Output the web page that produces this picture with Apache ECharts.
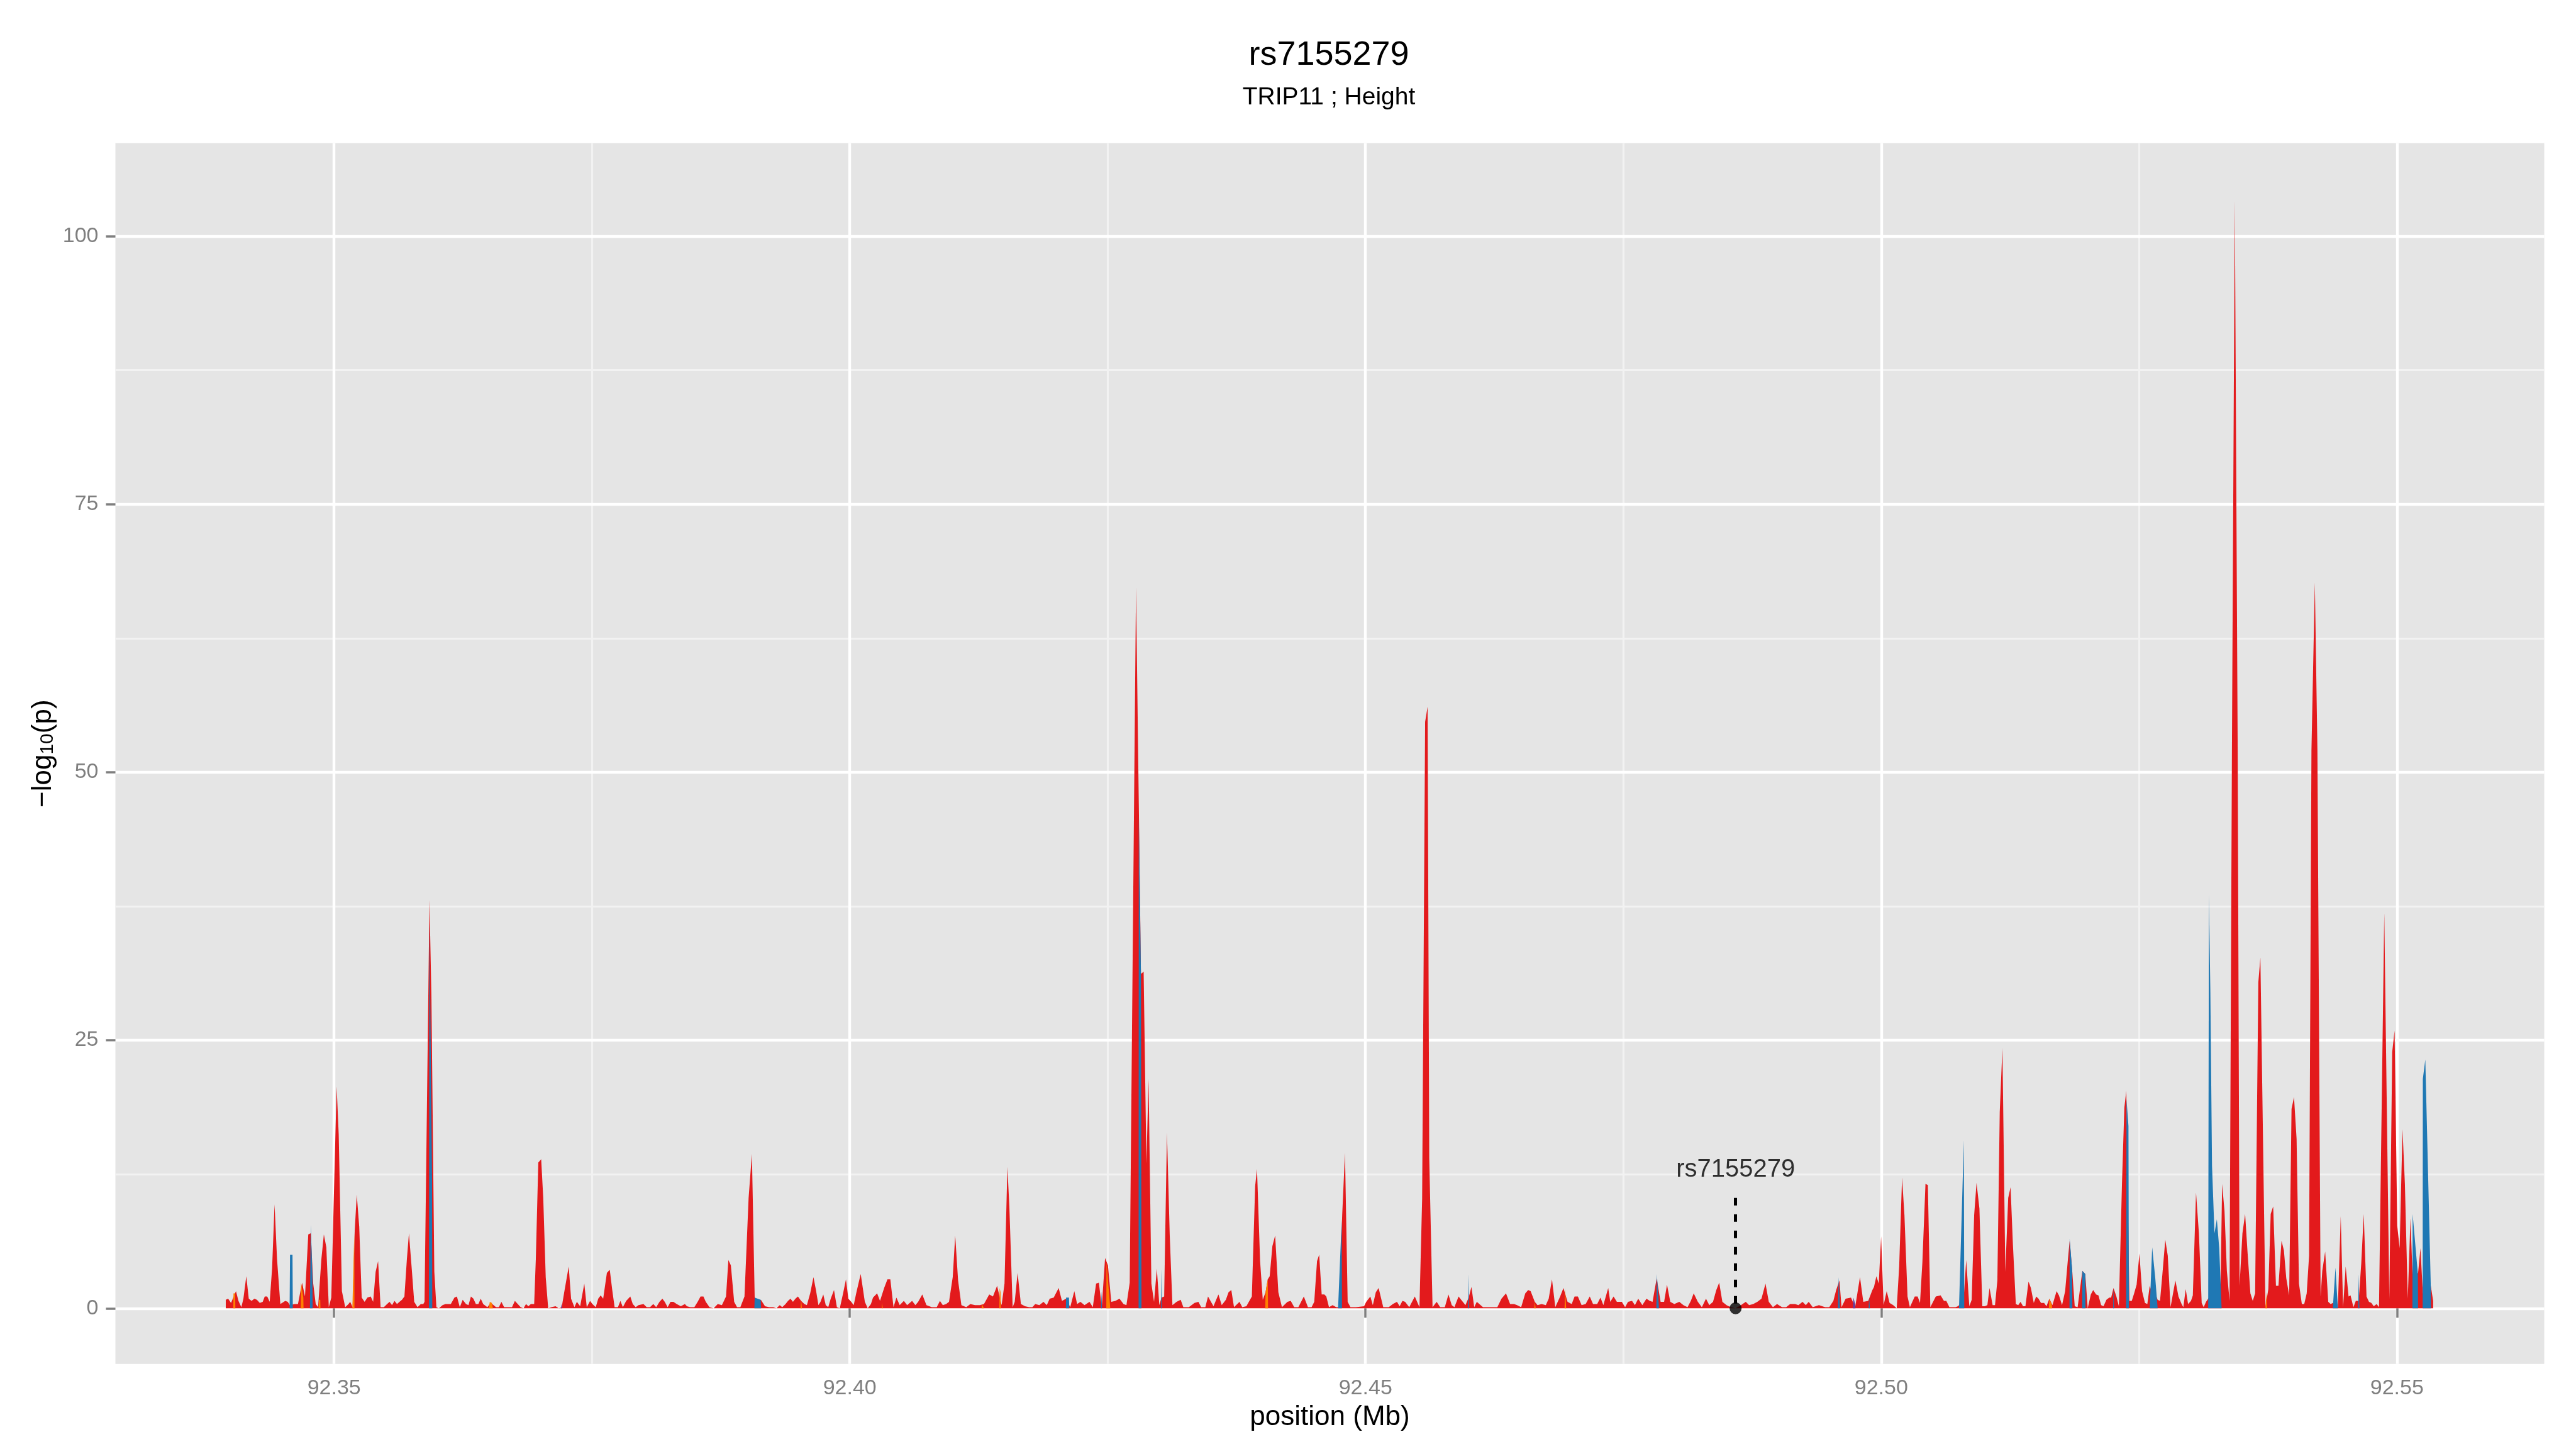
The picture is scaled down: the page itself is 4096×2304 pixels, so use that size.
<!DOCTYPE html>
<html>
<head>
<meta charset="utf-8">
<title>rs7155279</title>
<script src="https://cdn.jsdelivr.net/npm/echarts@6/dist/echarts.min.js"></script>
<style>
html, body { margin: 0; padding: 0; background: #fff; }
#chart { width: 4096px; height: 2304px; }
</style>
</head>
<body>
<div id="chart"></div>
<script>
// position in Mb, value is -log10(p)
const redPos = [
  92.33950, 92.33973, 92.34001, 92.34049, 92.34073, 92.34101, 92.34121, 92.34149, 92.34173, 92.34200,
  92.34228, 92.34252, 92.34280, 92.34308, 92.34328, 92.34352, 92.34376, 92.34399, 92.34423, 92.34447,
  92.34479, 92.34527, 92.34551, 92.34571, 92.34618, 92.34650, 92.34690, 92.34718, 92.34750, 92.34774,
  92.34798, 92.34822, 92.34845, 92.34877, 92.34901, 92.34925, 92.34949, 92.34973, 92.35025, 92.35045,
  92.35076, 92.35108, 92.35140, 92.35156, 92.35180, 92.35200, 92.35220, 92.35244, 92.35268, 92.35296,
  92.35323, 92.35355, 92.35379, 92.35403, 92.35427, 92.35451, 92.35483, 92.35514, 92.35538, 92.35562,
  92.35586, 92.35610, 92.35634, 92.35658, 92.35682, 92.35706, 92.35726, 92.35753, 92.35777, 92.35809,
  92.35841, 92.35865, 92.35877, 92.35925, 92.35944, 92.35972, 92.35992, 92.36016, 92.36052, 92.36080,
  92.36132, 92.36167, 92.36191, 92.36219, 92.36247, 92.36279, 92.36303, 92.36327, 92.36351, 92.36375,
  92.36399, 92.36422, 92.36446, 92.36486, 92.36510, 92.36534, 92.36570, 92.36598, 92.36622, 92.36649,
  92.36677, 92.36701, 92.36725, 92.36753, 92.36781, 92.36809, 92.36837, 92.36861, 92.36884, 92.36908,
  92.36940, 92.36956, 92.36980, 92.37008, 92.37028, 92.37052, 92.37076, 92.37107, 92.37147, 92.37179,
  92.37207, 92.37235, 92.37275, 92.37298, 92.37330, 92.37354, 92.37386, 92.37426, 92.37450, 92.37482,
  92.37505, 92.37537, 92.37561, 92.37585, 92.37609, 92.37645, 92.37673, 92.37697, 92.37720, 92.37752,
  92.37776, 92.37800, 92.37832, 92.37872, 92.37896, 92.37924, 92.37952, 92.38000, 92.38031, 92.38063,
  92.38095, 92.38123, 92.38155, 92.38183, 92.38206, 92.38234, 92.38262, 92.38290, 92.38322, 92.38362,
  92.38401, 92.38421, 92.38453, 92.38493, 92.38525, 92.38553, 92.38581, 92.38604, 92.38640, 92.38680,
  92.38720, 92.38760, 92.38800, 92.38823, 92.38847, 92.38879, 92.38907, 92.38939, 92.38979, 92.39019,
  92.39051, 92.39078, 92.39106, 92.39138, 92.39178, 92.39218, 92.39258, 92.39289, 92.39321, 92.39345,
  92.39377, 92.39401, 92.39425, 92.39449, 92.39473, 92.39497, 92.39528, 92.39560, 92.39584, 92.39616,
  92.39648, 92.39672, 92.39696, 92.39716, 92.39743, 92.39767, 92.39791, 92.39815, 92.39847, 92.39875,
  92.39903, 92.39935, 92.39963, 92.39986, 92.40014, 92.40038, 92.40062, 92.40086, 92.40106, 92.40146,
  92.40174, 92.40205, 92.40225, 92.40265, 92.40293, 92.40333, 92.40365, 92.40393, 92.40424, 92.40452,
  92.40484, 92.40524, 92.40556, 92.40604, 92.40636, 92.40663, 92.40703, 92.40743, 92.40795, 92.40843,
  92.40874, 92.40902, 92.40934, 92.40962, 92.40998, 92.41022, 92.41050, 92.41082, 92.41129, 92.41169,
  92.41213, 92.41261, 92.41301, 92.41352, 92.41388, 92.41428, 92.41472, 92.41500, 92.41528, 92.41547,
  92.41579, 92.41599, 92.41627, 92.41659, 92.41699, 92.41739, 92.41770, 92.41798, 92.41838, 92.41878,
  92.41910, 92.41938, 92.41977, 92.42025, 92.42057, 92.42097, 92.42137, 92.42177, 92.42204, 92.42236,
  92.42276, 92.42324, 92.42356, 92.42388, 92.42415, 92.42443, 92.42475, 92.42503, 92.42535, 92.42575,
  92.42615, 92.42654, 92.42682, 92.42714, 92.42775, 92.42802, 92.42823, 92.42849, 92.42876, 92.42897,
  92.42924, 92.42950, 92.42977, 92.43001, 92.43022, 92.43048, 92.43075, 92.43102, 92.43128, 92.43168,
  92.43208, 92.43234, 92.43287, 92.43342, 92.43380, 92.43407, 92.43447, 92.43473, 92.43526, 92.43574,
  92.43606, 92.43646, 92.43672, 92.43699, 92.43725, 92.43778, 92.43805, 92.43845, 92.43898, 92.43930,
  92.43948, 92.43978, 92.44004, 92.44031, 92.44052, 92.44071, 92.44097, 92.44124, 92.44155, 92.44190,
  92.44243, 92.44275, 92.44309, 92.44349, 92.44402, 92.44442, 92.44477, 92.44503, 92.44530, 92.44551,
  92.44575, 92.44601, 92.44620, 92.44646, 92.44681, 92.44716, 92.44742, 92.44774, 92.44801, 92.44827,
  92.44854, 92.44907, 92.44986, 92.45007, 92.45047, 92.45071, 92.45100, 92.45127, 92.45172, 92.45225,
  92.45265, 92.45305, 92.45331, 92.45358, 92.45384, 92.45424, 92.45478, 92.45523, 92.45549, 92.45578,
  92.45602, 92.45618, 92.45650, 92.45690, 92.45724, 92.45769, 92.45804, 92.45836, 92.45862, 92.45902,
  92.45969, 92.46000, 92.46027, 92.46054, 92.46079, 92.46139, 92.46218, 92.46278, 92.46318, 92.46362,
  92.46402, 92.46441, 92.46469, 92.46509, 92.46549, 92.46577, 92.46601, 92.46641, 92.46668, 92.46708,
  92.46748, 92.46776, 92.46808, 92.46840, 92.46887, 92.46919, 92.46959, 92.46999, 92.47027, 92.47059,
  92.47095, 92.47134, 92.47174, 92.47206, 92.47246, 92.47278, 92.47306, 92.47353, 92.47373, 92.47405,
  92.47437, 92.47485, 92.47517, 92.47545, 92.47584, 92.47612, 92.47644, 92.47684, 92.47724, 92.47756,
  92.47783, 92.47823, 92.47861, 92.47895, 92.47923, 92.47955, 92.47994, 92.48042, 92.48082, 92.48122,
  92.48154, 92.48182, 92.48222, 92.48261, 92.48301, 92.48333, 92.48369, 92.48401, 92.48429, 92.48460,
  92.48500, 92.48540, 92.48588, 92.48640, 92.48687, 92.48719, 92.48759, 92.48799, 92.48839, 92.48878,
  92.48910, 92.48950, 92.48990, 92.49038, 92.49078, 92.49117, 92.49165, 92.49197, 92.49237, 92.49269,
  92.49297, 92.49336, 92.49396, 92.49456, 92.49496, 92.49536, 92.49563, 92.49595, 92.49615, 92.49655,
  92.49707, 92.49747, 92.49794, 92.49826, 92.49874, 92.49914, 92.49930, 92.49953, 92.49976, 92.49999,
  92.50023, 92.50053, 92.50081, 92.50116, 92.50150, 92.50174, 92.50202, 92.50225, 92.50255, 92.50278,
  92.50325, 92.50353, 92.50376, 92.50399, 92.50429, 92.50452, 92.50476, 92.50529, 92.50576, 92.50608,
  92.50631, 92.50661, 92.50720, 92.50743, 92.50778, 92.50801, 92.50824, 92.50854, 92.50877, 92.50901,
  92.50924, 92.50952, 92.50980, 92.51005, 92.51029, 92.51050, 92.51080, 92.51103, 92.51126, 92.51149,
  92.51175, 92.51203, 92.51231, 92.51254, 92.51277, 92.51305, 92.51328, 92.51351, 92.51375, 92.51398,
  92.51428, 92.51451, 92.51479, 92.51502, 92.51525, 92.51549, 92.51579, 92.51602, 92.51630, 92.51660,
  92.51700, 92.51723, 92.51753, 92.51783, 92.51811, 92.51827, 92.51851, 92.51876, 92.51904, 92.51927,
  92.51950, 92.51978, 92.52002, 92.52032, 92.52055, 92.52083, 92.52106, 92.52132, 92.52155, 92.52183,
  92.52211, 92.52229, 92.52252, 92.52280, 92.52304, 92.52334, 92.52357, 92.52376, 92.52406, 92.52429,
  92.52452, 92.52476, 92.52503, 92.52529, 92.52557, 92.52580, 92.52603, 92.52627, 92.52657, 92.52680,
  92.52703, 92.52726, 92.52754, 92.52778, 92.52805, 92.52829, 92.52852, 92.52882, 92.52912, 92.52929,
  92.52952, 92.52975, 92.53003, 92.53021, 92.53052, 92.53080, 92.53107, 92.53126, 92.53149, 92.53177,
  92.53242, 92.53289, 92.53305, 92.53328, 92.53351, 92.53377, 92.53400, 92.53428, 92.53456, 92.53474,
  92.53502, 92.53528, 92.53551, 92.53579, 92.53602, 92.53625, 92.53656, 92.53676, 92.53725, 92.53753,
  92.53776, 92.53800, 92.53827, 92.53851, 92.53881, 92.53904, 92.53927, 92.53955, 92.53978, 92.54002,
  92.54027, 92.54050, 92.54078, 92.54101, 92.54125, 92.54148, 92.54171, 92.54204, 92.54229, 92.54260,
  92.54276, 92.54304, 92.54334, 92.54357, 92.54380, 92.54427, 92.54455, 92.54478, 92.54503, 92.54531,
  92.54550, 92.54578, 92.54601, 92.54629, 92.54654, 92.54678, 92.54705, 92.54729, 92.54752, 92.54775,
  92.54803, 92.54826, 92.54877, 92.54926, 92.54954, 92.54977, 92.55003, 92.55026, 92.55054, 92.55077,
  92.55105, 92.55131, 92.55152, 92.55205, 92.55228, 92.55251, 92.55309, 92.55328, 92.55351
];
const redVal = [
  0.8, 0.9, 0.5, 1.6, 0.7, 0.1, 0.9, 3.0, 0.9, 0.7,
  0.9, 0.8, 0.5, 0.6, 1.1, 1.1, 0.6, 3.7, 9.7, 4.6,
  0.4, 0.7, 0.6, 0.3, 0.4, 0.4, 2.4, 1.1, 6.9, 7.0,
  2.3, 0.4, 0.1, 4.6, 6.9, 5.7, 0.1, 1.0, 20.7, 16.2,
  1.6, 0.1, 0.4, 0.6, 0.1, 7.2, 10.6, 7.6, 1.0, 0.6,
  1.0, 1.1, 0.6, 3.4, 4.4, 0.1, 0.1, 0.4, 0.6, 0.3,
  0.7, 0.4, 0.6, 0.8, 1.1, 4.6, 7.0, 3.7, 0.6, 0.1,
  0.4, 0.4, 0.6, 38.1, 29.0, 3.4, 0.1, 0.0, 0.3, 0.4,
  0.4, 1.0, 1.1, 0.1, 0.8, 0.4, 0.3, 1.1, 0.9, 0.4,
  0.4, 0.9, 0.4, 0.1, 0.4, 0.4, 0.1, 0.1, 0.6, 0.1,
  0.1, 0.1, 0.1, 0.7, 0.4, 0.1, 0.0, 0.4, 0.2, 0.4,
  0.4, 4.6, 13.6, 13.9, 10.3, 2.9, 0.0, 0.1, 0.2, 0.0,
  0.1, 1.7, 3.9, 0.9, 0.1, 0.6, 0.2, 2.3, 0.1, 0.7,
  0.4, 0.1, 0.9, 1.2, 0.9, 3.3, 3.6, 1.7, 0.1, 0.1,
  0.7, 0.1, 0.7, 1.1, 0.4, 0.1, 0.3, 0.4, 0.1, 0.1,
  0.4, 0.1, 0.6, 0.9, 0.6, 0.1, 0.6, 0.6, 0.4, 0.2,
  0.4, 0.2, 0.1, 0.1, 0.6, 1.1, 1.1, 0.6, 0.1, 0.0,
  0.4, 0.3, 1.1, 4.5, 4.0, 0.6, 0.1, 0.1, 1.1, 10.3,
  14.4, 1.0, 0.6, 0.8, 0.2, 0.1, 0.1, 0.0, 0.3, 0.1,
  0.4, 0.7, 0.9, 0.6, 0.9, 1.1, 0.7, 0.4, 0.3, 1.4,
  2.9, 1.7, 0.3, 0.6, 1.3, 0.3, 0.1, 0.9, 1.7, 0.1,
  0.0, 1.4, 2.7, 0.9, 0.6, 0.3, 1.4, 2.4, 3.2, 0.6,
  0.0, 0.4, 1.0, 1.4, 0.7, 1.9, 2.7, 2.7, 0.1, 1.0,
  0.3, 0.7, 0.3, 0.7, 0.3, 0.6, 1.3, 0.3, 0.1, 0.1,
  0.7, 0.3, 0.4, 0.6, 2.9, 6.8, 2.6, 0.3, 0.1, 0.4,
  0.3, 0.3, 0.4, 1.3, 1.1, 2.1, 0.3, 2.3, 13.2, 9.5,
  0.1, 0.6, 3.3, 0.4, 0.2, 0.1, 0.1, 0.4, 0.3, 0.6,
  0.3, 0.9, 1.0, 1.9, 0.7, 0.9, 0.1, 1.6, 0.4, 0.6,
  0.3, 0.6, 0.1, 2.3, 2.4, 0.1, 4.7, 4.0, 0.6, 0.7,
  0.9, 0.4, 0.3, 2.4, 67.3, 47.0, 31.2, 31.4, 13.5, 21.4,
  2.3, 0.6, 3.7, 0.3, 1.0, 1.1, 16.4, 6.8, 0.3, 0.6,
  0.8, 0.1, 0.1, 0.5, 0.6, 0.1, 0.1, 1.1, 0.2, 1.3,
  0.3, 0.8, 1.5, 1.7, 0.1, 0.6, 0.1, 0.2, 1.1, 11.4,
  13.0, 4.4, 0.8, 1.5, 2.7, 3.0, 5.8, 6.8, 1.5, 0.1,
  0.6, 0.7, 0.1, 0.1, 1.1, 0.1, 0.1, 0.6, 4.4, 5.0,
  1.3, 1.3, 1.1, 0.1, 0.3, 0.1, 0.1, 8.7, 14.5, 0.6,
  0.1, 0.1, 0.2, 0.6, 1.1, 0.3, 1.5, 1.9, 0.1, 0.1,
  0.4, 0.6, 0.2, 0.7, 0.6, 0.1, 1.1, 0.1, 10.2, 54.7,
  56.1, 14.0, 0.1, 0.6, 0.1, 0.1, 1.3, 0.3, 0.1, 1.1,
  0.3, 1.0, 2.0, 0.1, 0.6, 0.1, 0.1, 0.1, 0.9, 1.4,
  0.4, 0.4, 0.3, 0.1, 1.4, 1.7, 1.6, 0.6, 0.3, 0.4,
  0.3, 0.9, 2.7, 0.1, 1.1, 1.9, 0.6, 0.4, 1.1, 1.1,
  0.3, 0.4, 1.1, 0.4, 0.4, 1.0, 0.3, 1.9, 0.6, 1.1,
  0.6, 0.6, 0.1, 0.6, 0.7, 0.3, 0.9, 0.3, 0.9, 0.7,
  0.6, 2.8, 0.6, 0.6, 2.2, 0.6, 0.4, 0.6, 0.3, 0.1,
  0.7, 1.4, 0.6, 0.1, 0.9, 0.3, 0.6, 1.7, 2.4, 0.6,
  0.3, 0.1, 0.0, 0.3, 0.6, 0.3, 0.4, 0.6, 0.9, 2.3,
  0.6, 0.1, 0.4, 0.1, 0.1, 0.4, 0.4, 0.3, 0.6, 0.3,
  0.6, 0.1, 0.3, 0.1, 0.1, 0.7, 1.7, 2.6, 0.1, 0.9,
  1.0, 0.1, 2.9, 0.6, 0.7, 1.7, 2.0, 3.0, 2.3, 6.7,
  0.3, 1.6, 0.5, 0.3, 0.0, 3.9, 12.2, 8.7, 1.1, 0.1,
  1.1, 1.1, 0.5, 4.3, 11.6, 11.5, 0.1, 1.1, 1.2, 0.7,
  0.7, 0.1, 0.1, 0.2, 0.5, 1.1, 4.5, 0.2, 0.8, 8.7,
  11.7, 9.3, 0.2, 0.2, 0.3, 1.9, 0.3, 0.3, 2.6, 18.3,
  24.3, 3.4, 10.3, 11.3, 5.9, 0.4, 0.3, 0.6, 0.2, 0.2,
  2.5, 1.9, 0.5, 1.1, 0.9, 0.5, 0.5, 0.2, 0.9, 0.3,
  1.6, 1.2, 0.3, 1.6, 4.7, 6.3, 3.6, 0.2, 0.1, 1.8,
  3.5, 3.2, 0.0, 1.3, 1.7, 1.3, 1.2, 0.3, 0.2, 0.8,
  1.0, 1.0, 1.9, 1.1, 0.2, 11.6, 18.7, 20.3, 0.7, 0.7,
  1.4, 2.2, 5.1, 1.6, 0.5, 0.4, 2.1, 1.4, 1.4, 0.8,
  0.7, 3.2, 6.4, 4.9, 0.1, 1.4, 2.6, 1.1, 0.4, 0.1,
  1.8, 0.4, 0.7, 1.2, 10.8, 7.0, 0.5, 0.1, 0.6, 1.0,
  1.0, 1.4, 11.6, 9.1, 3.5, 0.7, 52.0, 103.4, 52.0, 2.1,
  7.0, 8.8, 5.3, 1.4, 0.7, 1.4, 30.4, 32.7, 0.1, 1.8,
  8.8, 9.5, 2.1, 2.1, 6.3, 5.4, 2.8, 1.2, 18.6, 19.7,
  15.8, 2.3, 0.4, 0.4, 1.4, 4.9, 52.0, 67.7, 52.0, 1.1,
  3.5, 5.3, 0.6, 0.4, 0.5, 0.1, 8.6, 0.1, 3.9, 1.1,
  1.2, 0.1, 0.7, 0.7, 4.2, 8.8, 1.1, 0.6, 0.5, 0.2,
  0.4, 0.1, 36.9, 0.9, 23.9, 25.9, 7.7, 5.6, 16.7, 11.6,
  0.9, 8.4, 2.8, 3.3, 5.6, 1.4, 1.4, 2.1, 0.7
];

const bluePos = [
  92.34569, 92.34573, 92.34597, 92.34600, 92.34766, 92.34774, 92.34790, 92.34792,
  92.35920, 92.35925, 92.35950, 92.35952, 92.39075, 92.39078, 92.39136, 92.39140,
  92.42095, 92.42097, 92.42125, 92.42128, 92.42435, 92.42440, 92.42445,
  92.42800, 92.42802, 92.42823, 92.42828, 92.43018, 92.43022, 92.43027,
  92.44734, 92.44769, 92.44772, 92.45995, 92.46000, 92.46005,
  92.47820, 92.47825, 92.47845, 92.49580, 92.49588, 92.49597, 92.49600,
  92.49878, 92.49883, 92.49890, 92.50754, 92.50801, 92.50805,
  92.51825, 92.51827, 92.51851, 92.51853, 92.51948, 92.51950, 92.51978, 92.51980,
  92.52248, 92.52252, 92.52258, 92.52374, 92.52378, 92.52397, 92.52401,
  92.52603, 92.52627, 92.52657, 92.52680,
  92.53170, 92.53177, 92.53191, 92.53207, 92.53231, 92.53254, 92.53277, 92.53300,
  92.54378, 92.54404, 92.54427, 92.54624, 92.54629, 92.54636,
  92.55150, 92.55152, 92.55203, 92.55205, 92.55249, 92.55251, 92.55275, 92.55328, 92.55330
];
const blueVal = [
  0, 5.0, 5.0, 0, 0, 7.8, 3.0, 0,
  0, 36.0, 12.0, 0, 0, 1.0, 0.8, 0,
  0, 1.0, 1.0, 0, 0, 1.6, 0,
  0, 46.0, 31.0, 0, 0, 3.7, 0,
  0, 8.2, 0, 0, 3.2, 0,
  0, 3.2, 0, 0, 2.9, 2.8, 0,
  0, 0.9, 0, 0, 15.7, 0,
  0, 6.5, 3.6, 0, 0, 3.5, 3.2, 0,
  0, 1.9, 0, 0, 19.5, 17.0, 0,
  0, 5.7, 2.8, 0,
  0, 38.6, 29.5, 13.3, 7.0, 8.3, 5.6, 0,
  0, 3.8, 0, 0, 3.2, 0,
  0, 8.8, 3.2, 0, 0, 21.4, 23.2, 2.1, 0
];

const orangePos = [
  92.34023, 92.34025, 92.34041, 92.34043, 92.34678, 92.34680, 92.34702, 92.34704,
  92.34850, 92.34853, 92.34866, 92.34868, 92.35178, 92.35180, 92.35196, 92.35198,
  92.36500, 92.36510, 92.36530, 92.36540, 92.39523, 92.39528, 92.39536,
  92.40310, 92.40313, 92.40320, 92.41278, 92.41281, 92.41300,
  92.41450, 92.41453, 92.41462, 92.41464, 92.42487, 92.42489, 92.42523, 92.42525,
  92.44028, 92.44031, 92.44052, 92.44055, 92.46636, 92.46641, 92.46650,
  92.46930, 92.46935, 92.46945, 92.51625, 92.51630, 92.51655, 92.51657,
  92.53725, 92.53735, 92.53740
];
const orangeVal = [
  0, 1.4, 1.4, 0, 0, 2.4, 1.0, 0,
  0, 0.8, 0.8, 0, 0, 1.0, 7.0, 0,
  0, 0.6, 0.5, 0, 0, 0.8, 0,
  0, 0.5, 0, 0, 0.4, 0,
  0, 1.9, 1.5, 0, 0, 4.3, 0.3, 0,
  0, 1.5, 2.7, 0, 0, 0.6, 0,
  0, 1.9, 0, 0, 0.9, 0.3, 0,
  0, 1.5, 0
];

const purplePos = [92.37200, 92.37205, 92.37212, 92.49725, 92.49730, 92.49748, 92.49750];
const purpleVal = [0, 0.4, 0, 0, 1.0, 0.4, 0];

const snpName = 'rs7155279';
const snpPos = 92.48588;
const snpLineTop = 10.3;
const snpLabelY = 12.9;

const xTicks = [92.35, 92.40, 92.45, 92.50, 92.55];
const xMinor = [92.375, 92.425, 92.475, 92.525];
const yTicks = [0, 25, 50, 75, 100];
const yMinor = [12.5, 37.5, 62.5, 87.5];

const FONT = '"Liberation Sans", Arial, Helvetica, sans-serif';
const xMin = 92.3288, xMax = 92.56428;
const yMin = -5.19, yMax = 108.67;

function zip(p, v) {
  return p.map((x, i) => [x, v[i]]);
}

function areaSeries(name, pos, val, color, z) {
  return {
    name: name,
    type: 'line',
    xAxisIndex: 0,
    yAxisIndex: 0,
    data: zip(pos, val),
    symbol: 'none',
    showSymbol: false,
    smooth: false,
    lineStyle: { width: 0, opacity: 0 },
    areaStyle: { color: color, opacity: 1, origin: 'auto' },
    z: z,
    silent: true
  };
}

const chart = echarts.init(document.getElementById('chart'));
chart.setOption({
  animation: false,
  backgroundColor: '#ffffff',
  graphic: [
    {
      type: 'text', x: 2113, y: 88,
      style: { text: snpName, fontSize: 54, fontFamily: FONT, fill: '#000', align: 'center', verticalAlign: 'middle' }
    },
    {
      type: 'text', x: 2113, y: 155,
      style: { text: 'TRIP11 ; Height', fontSize: 39, fontFamily: FONT, fill: '#000', align: 'center', verticalAlign: 'middle' }
    }
  ],
  grid: {
    left: 183.5,
    right: 50.5,
    top: 227.6,
    bottom: 135.2,
    show: true,
    backgroundColor: '#e5e5e5',
    borderWidth: 0,
    containLabel: false,
    outerBoundsMode: 'none',
    z: 0
  },
  xAxis: [
    {
      type: 'value',
      min: xMin,
      max: xMax,
      position: 'bottom',
      z: 2,
      name: 'position (Mb)',
      nameLocation: 'middle',
      nameGap: 63,
      nameMoveOverlap: false,
      nameTextStyle: { fontSize: 44, color: '#000', fontFamily: FONT },
      axisLine: { show: false },
      axisTick: { show: true, customValues: xTicks, length: 15, lineStyle: { color: '#7f7f7f', width: 3.5 } },
      axisLabel: {
        customValues: xTicks,
        formatter: v => v.toFixed(2),
        color: '#7f7f7f',
        fontSize: 34,
        fontFamily: FONT,
        margin: 22
      },
      splitLine: { show: true, lineStyle: { color: '#ffffff', width: 4.4 } }
    },
    {
      type: 'value',
      min: xMin,
      max: xMax,
      position: 'bottom',
      z: 1,
      axisLine: { show: false },
      axisTick: { show: false, customValues: xMinor },
      axisLabel: { show: false, customValues: xMinor },
      splitLine: { show: true, lineStyle: { color: '#f2f2f2', width: 3.2 } }
    }
  ],
  yAxis: [
    {
      type: 'value',
      min: yMin,
      max: yMax,
      position: 'left',
      z: 2,
      name: '{a|\u2212log}{s|10}{a|(p)}',
      nameLocation: 'middle',
      nameGap: 93,
      nameRotate: 90,
      nameMoveOverlap: false,
      nameTextStyle: {
        color: '#000',
        fontFamily: FONT,
        rich: {
          a: { fontSize: 44, color: '#000', fontFamily: FONT, lineHeight: 44, verticalAlign: 'top' },
          s: { fontSize: 30, color: '#000', fontFamily: FONT, lineHeight: 30, verticalAlign: 'bottom', padding: [21, 0, 0, 0] }
        }
      },
      axisLine: { show: false },
      axisTick: { show: true, customValues: yTicks, length: 15, lineStyle: { color: '#7f7f7f', width: 3.5 } },
      axisLabel: {
        customValues: yTicks,
        color: '#7f7f7f',
        fontSize: 34,
        fontFamily: FONT,
        margin: 27
      },
      splitLine: { show: true, lineStyle: { color: '#ffffff', width: 4.4 } }
    },
    {
      type: 'value',
      min: yMin,
      max: yMax,
      position: 'left',
      z: 1,
      axisLine: { show: false },
      axisTick: { show: false, customValues: yMinor },
      axisLabel: { show: false, customValues: yMinor },
      splitLine: { show: true, lineStyle: { color: '#f2f2f2', width: 3.2 } }
    }
  ],
  series: [
    areaSeries('r2 0.8-1', redPos, redVal, '#E31A1C', 3),
    areaSeries('r2 0.6-0.8', bluePos, blueVal, '#1F78B4', 4),
    areaSeries('r2 0.4-0.6', orangePos, orangeVal, '#FF7F00', 5),
    areaSeries('r2 0.2-0.4', purplePos, purpleVal, '#6A3D9A', 5),
    {
      name: 'snp',
      type: 'scatter',
      xAxisIndex: 0,
      yAxisIndex: 0,
      data: [[snpPos, 0]],
      symbol: 'circle',
      symbolSize: 19,
      itemStyle: { color: '#000' },
      z: 10,
      silent: true,
      markLine: {
        silent: true,
        symbol: ['none', 'none'],
        label: { show: false },
        lineStyle: { color: '#000', width: 5, type: [12, 14] },
        data: [[{ coord: [snpPos, snpLineTop] }, { coord: [snpPos, 0] }]]
      }
    },
    {
      name: 'snp label',
      type: 'scatter',
      xAxisIndex: 0,
      yAxisIndex: 0,
      data: [[snpPos, snpLabelY]],
      symbolSize: 1,
      itemStyle: { color: 'rgba(0,0,0,0)' },
      z: 10,
      silent: true,
      label: {
        show: true,
        position: 'inside',
        formatter: snpName,
        color: '#000',
        fontSize: 40,
        fontFamily: FONT
      }
    }
  ]
});
</script>
</body>
</html>
